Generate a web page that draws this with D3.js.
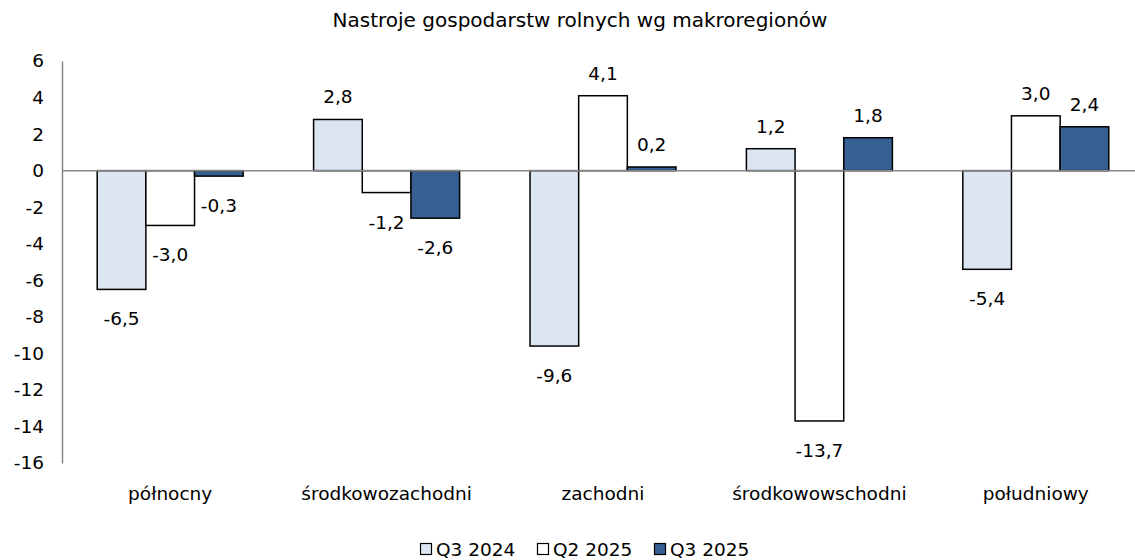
<!DOCTYPE html>
<html>
<head>
<meta charset="utf-8">
<script src="https://cdn.jsdelivr.net/npm/d3@7"></script>
<style>
  body { margin: 0; background: #fff; }
  svg text { font-family: Tahoma, "DejaVu Sans", sans-serif; fill: #000; }
</style>
</head>
<body>
<div id="chart"></div>
<script>
const regions = ['północny', 'środkowozachodni', 'zachodni', 'środkowowschodni', 'południowy'];
const seriesNames = ['Q3 2024', 'Q2 2025', 'Q3 2025'];
const q3_2024 = [-6.5, 2.8, -9.6, 1.2, -5.4];
const q2_2025 = [-3.0, -1.2, 4.1, -13.7, 3.0];
const q3_2025 = [-0.3, -2.6, 0.2, 1.8, 2.4];
const yTicks = [6, 4, 2, 0, -2, -4, -6, -8, -10, -12, -14, -16];
const colors = ['#dce6f2', '#ffffff', '#376092'];

const w = 1135, h = 560;
const fs = '18.5px';
const svg = d3.select('#chart').append('svg')
  .attr('width', w).attr('height', h);

const series = [q3_2024, q2_2025, q3_2025];

const y = d3.scaleLinear().domain([-16, 6]).range([463, 61]);
const x = d3.scaleBand().domain(regions).range([62, 1144]).paddingInner(0).paddingOuter(0);
const xs = d3.scaleBand().domain(seriesNames).range([0, 146]);
const groupOffset = (x.bandwidth() - 146) / 2;

// title
svg.append('text')
  .attr('x', 580).attr('y', 27)
  .attr('text-anchor', 'middle')
  .style('font-size', '20px')
  .text('Nastroje gospodarstw rolnych wg makroregionów');

// y axis
const yAxis = d3.axisLeft(y).tickValues(yTicks).tickSize(0).tickPadding(0).tickFormat(d => d);
const gy = svg.append('g').attr('transform', 'translate(62,0)').call(yAxis);
gy.select('.domain').attr('stroke', '#868686').attr('stroke-width', 1.5);
gy.selectAll('text')
  .attr('x', -18)
  .style('font-size', fs)
  .style('font-family', 'Tahoma, "DejaVu Sans", sans-serif');

// bars
const groups = svg.append('g').selectAll('g')
  .data(regions).enter().append('g')
  .attr('transform', d => `translate(${x(d) + groupOffset},0)`);

groups.each(function(region, ri) {
  const g = d3.select(this);
  seriesNames.forEach((s, si) => {
    const v = series[si][ri];
    g.append('rect')
      .attr('x', xs(s))
      .attr('y', y(Math.max(0, v)))
      .attr('width', xs.bandwidth())
      .attr('height', Math.abs(y(v) - y(0)))
      .attr('fill', colors[si])
      .attr('stroke', '#000')
      .attr('stroke-width', 1.5);
  });
});

// zero line
svg.append('line')
  .attr('x1', 62).attr('x2', w)
  .attr('y1', y(0)).attr('y2', y(0))
  .attr('stroke', '#868686').attr('stroke-width', 1.5);

// value labels
groups.each(function(region, ri) {
  const g = d3.select(this);
  seriesNames.forEach((s, si) => {
    const v = series[si][ri];
    g.append('text')
      .attr('x', xs(s) + xs.bandwidth() / 2)
      .attr('y', v >= 0 ? y(v) - 16 : y(v) + 36)
      .attr('text-anchor', 'middle')
      .style('font-size', fs)
      .text(d3.format('.1f')(v).replace('.', ',').replace('−', '-'));
  });
});

// category labels
svg.append('g').selectAll('text')
  .data(regions).enter().append('text')
  .attr('x', d => x(d) + x.bandwidth() / 2)
  .attr('y', 500)
  .attr('text-anchor', 'middle')
  .style('font-size', fs)
  .text(d => d);

// legend
const legendX = [420, 537, 654];
const legend = svg.append('g').selectAll('g')
  .data(seriesNames).enter().append('g')
  .attr('transform', (d, i) => `translate(${legendX[i]},556)`);
legend.append('rect')
  .attr('x', 0.5).attr('y', -12.5).attr('width', 11).attr('height', 11)
  .attr('fill', (d, i) => colors[i])
  .attr('stroke', '#000').attr('stroke-width', 1.2);
legend.append('text')
  .attr('x', 16).attr('y', 0)
  .style('font-size', fs)
  .text(d => d);
</script>
</body>
</html>
